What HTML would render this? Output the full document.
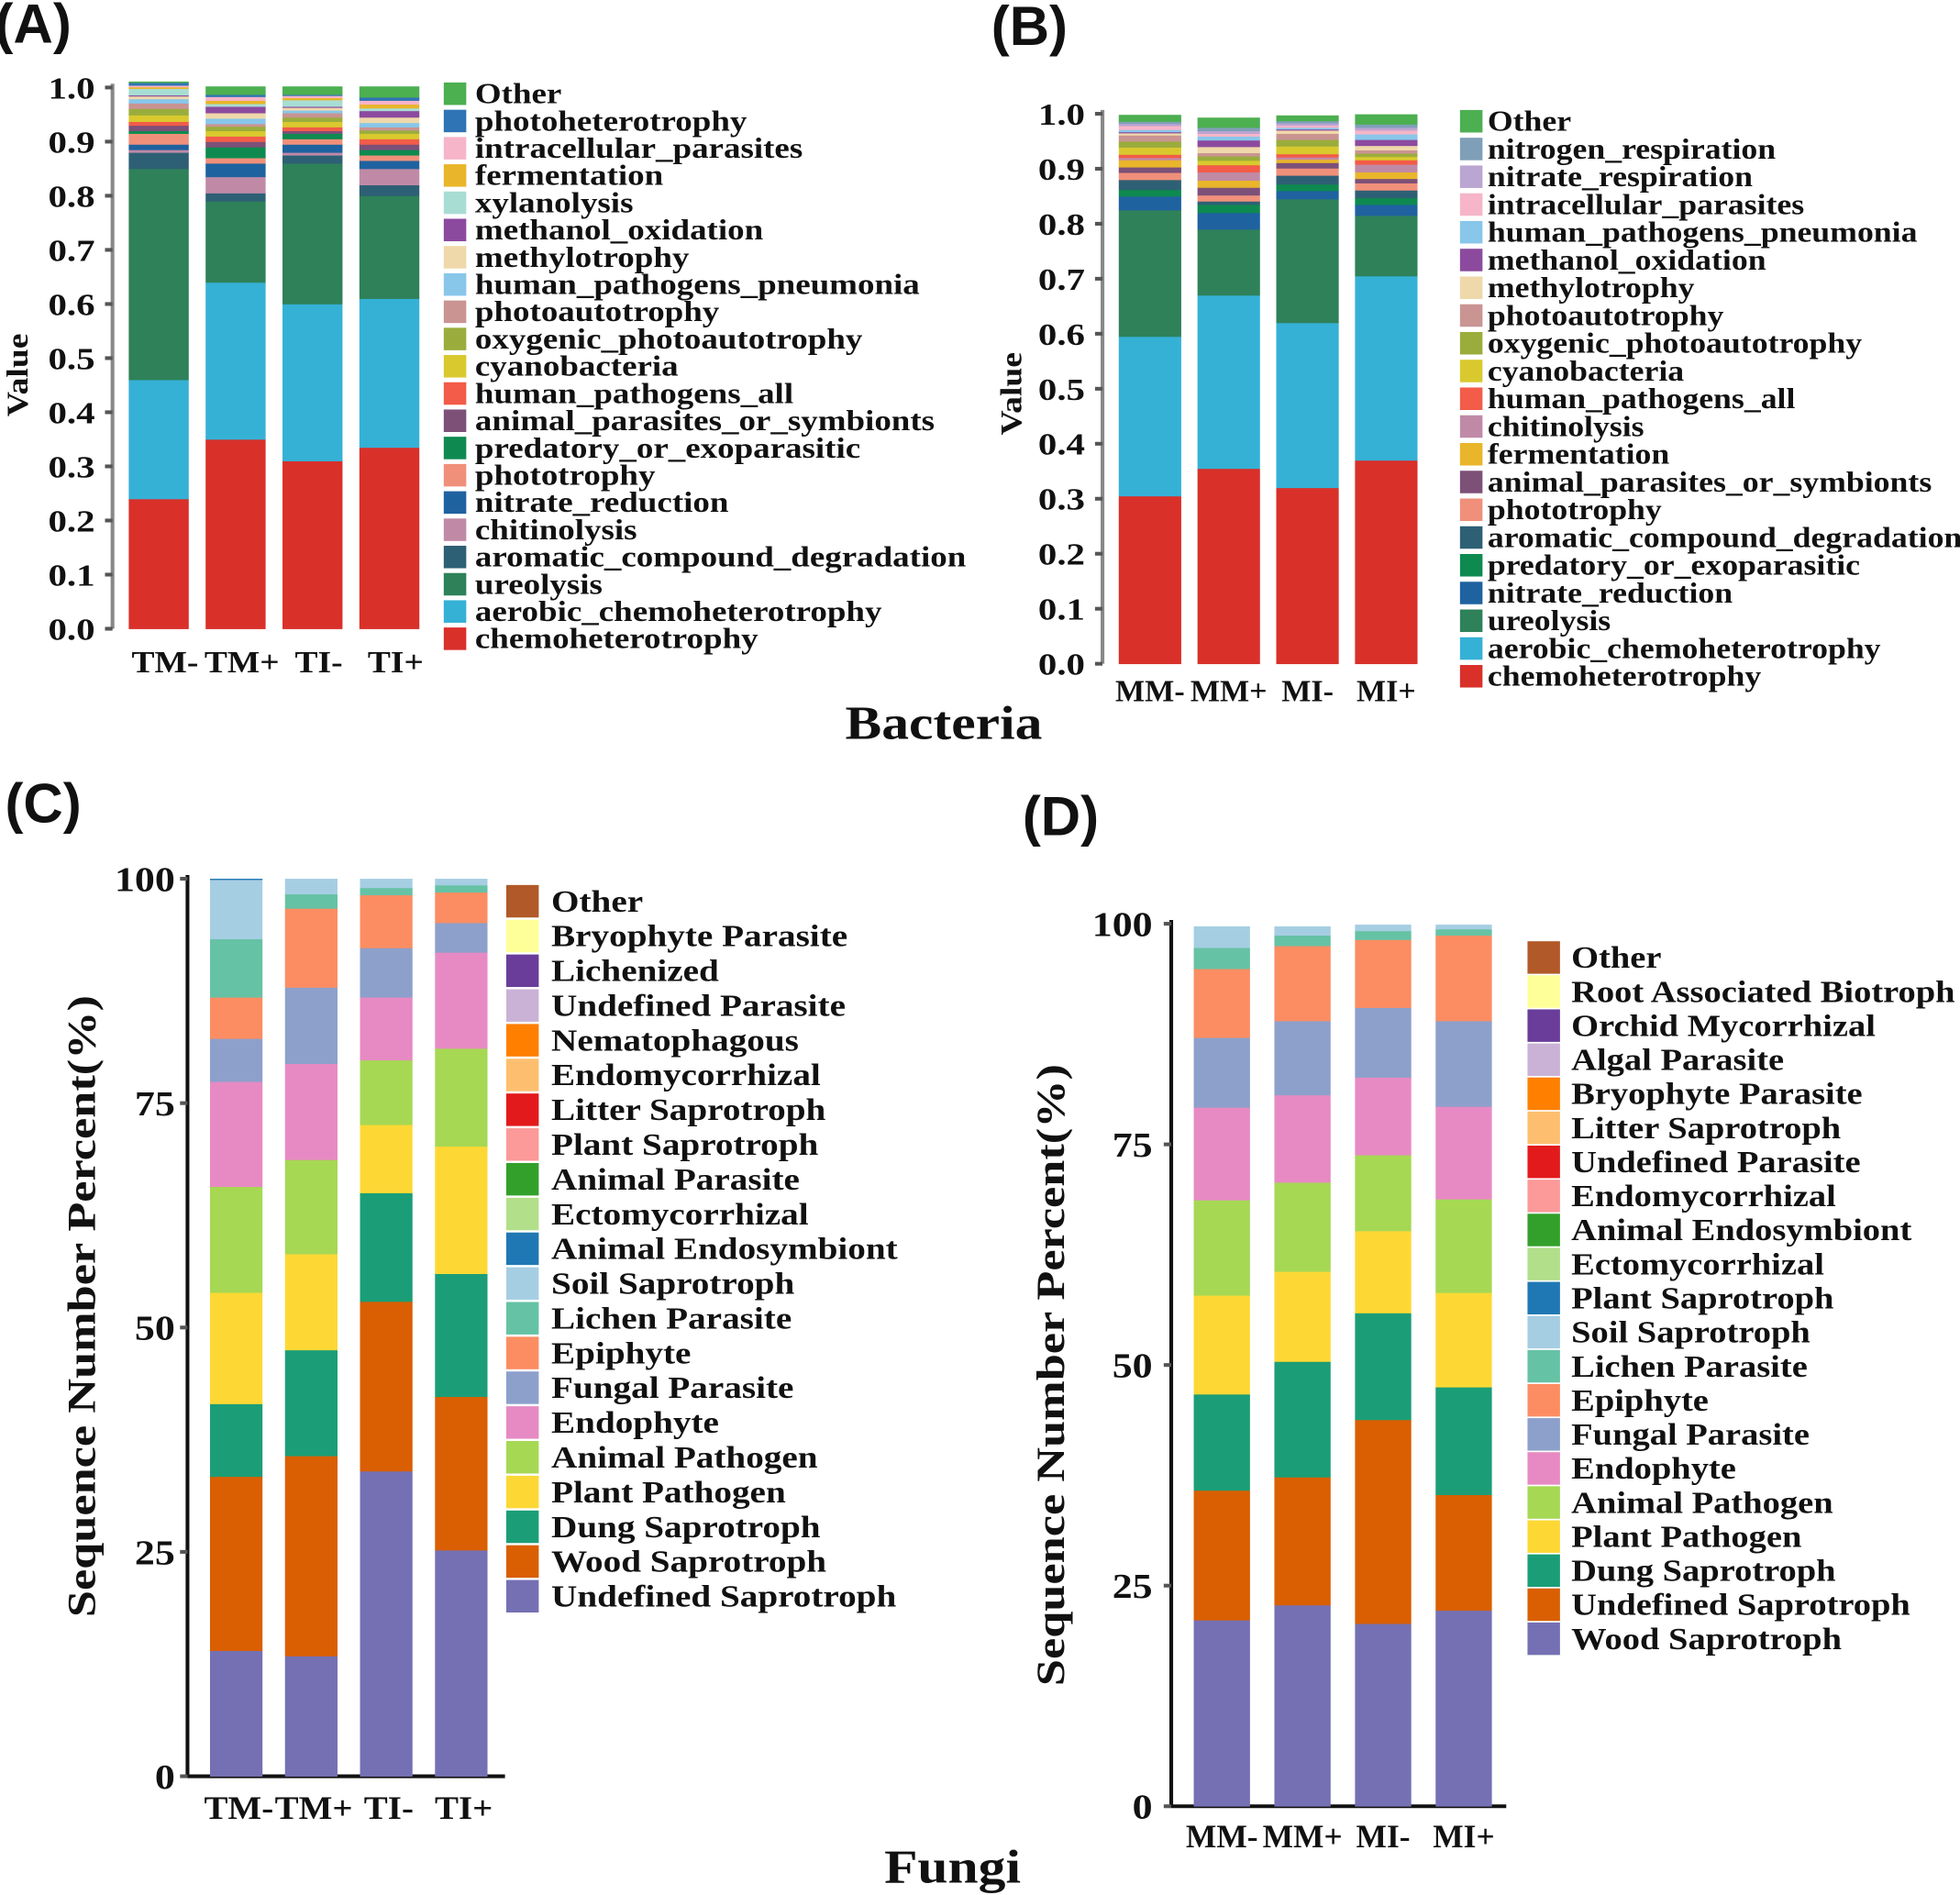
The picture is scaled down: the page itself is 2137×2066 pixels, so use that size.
<!DOCTYPE html>
<html><head><meta charset="utf-8">
<style>
html,body{margin:0;padding:0;background:#fff;}
svg{display:block;}
text{font-family:"Liberation Serif",serif;font-weight:bold;fill:#111;}
.lab{font-family:"Liberation Sans",sans-serif;}
</style></head>
<body>
<svg id="fig" width="2137" height="2066" viewBox="0 0 1568 1516" preserveAspectRatio="none" xmlns="http://www.w3.org/2000/svg">
<text class="lab" x="-4" y="34" font-size="44">(A)</text>
<text class="lab" x="793" y="36" font-size="44">(B)</text>
<text class="lab" x="4" y="658" font-size="44">(C)</text>
<text class="lab" x="818" y="668" font-size="44">(D)</text>
<text transform="translate(755,591) scale(1.15,1)" font-size="38" text-anchor="middle">Bacteria</text>
<text transform="translate(762,1506) scale(1.15,1)" font-size="38" text-anchor="middle">Fungi</text>
</svg>
<script>
// ---------- Panel A data (bottom-up series) ----------
const catsA = ["TM-","TM+","TI-","TI+"];
const namesA = ["chemoheterotrophy","aerobic_chemoheterotrophy","ureolysis","aromatic_compound_degradation","chitinolysis","nitrate_reduction","phototrophy","predatory_or_exoparasitic","animal_parasites_or_symbionts","human_pathogens_all","cyanobacteria","oxygenic_photoautotrophy","photoautotrophy","human_pathogens_pneumonia","methylotrophy","methanol_oxidation","xylanolysis","fermentation","intracellular_parasites","photoheterotrophy","Other"];
const colorsA = ["#d9302a","#35b1d6","#2e8159","#2e6075","#c08aa6","#1f62a0","#f0907a","#0e8a50","#7d5078","#f25c48","#d9c92e","#9aad3c","#c99491","#88c6ea","#efd8aa","#8c4a9e","#a8ddd4","#e9b52a","#f6b5c9","#2f74b4","#4caf50"];
const valsA = [
 [0.24,0.35,0.31,0.335],[0.22,0.29,0.29,0.275],[0.39,0.15,0.26,0.19],[0.03,0.015,0.015,0.02],
 [0.005,0.03,0.005,0.03],[0.01,0.025,0.015,0.015],[0.02,0.01,0.01,0.01],[0.005,0.02,0.01,0.01],
 [0.01,0.01,0.005,0.01],[0.007,0.01,0.007,0.01],[0.012,0.01,0.01,0.01],[0.012,0.008,0.008,0.006],
 [0.01,0.005,0.008,0.006],[0.008,0.01,0.005,0.008],[0.005,0.01,0.005,0.01],[0.002,0.012,0.002,0.012],
 [0.012,0.005,0.012,0.005],[0.003,0.006,0.004,0.007],[0.003,0.007,0.004,0.007],[0.005,0.004,0.002,0.006],[0.002,0.015,0.015,0.02]];
// ---------- Panel B data ----------
const catsB = ["MM-","MM+","MI-","MI+"];
const namesB = ["chemoheterotrophy","aerobic_chemoheterotrophy","ureolysis","nitrate_reduction","predatory_or_exoparasitic","aromatic_compound_degradation","phototrophy","animal_parasites_or_symbionts","fermentation","chitinolysis","human_pathogens_all","cyanobacteria","oxygenic_photoautotrophy","photoautotrophy","methylotrophy","methanol_oxidation","human_pathogens_pneumonia","intracellular_parasites","nitrate_respiration","nitrogen_respiration","Other"];
const colorsB = ["#d9302a","#35b1d6","#2e8159","#1f62a0","#0e8a50","#2e6075","#f0907a","#7d5078","#e9b52a","#c08aa6","#f25c48","#d9c92e","#9aad3c","#c99491","#efd8aa","#8c4a9e","#88c6ea","#f6b5c9","#bba5d2","#7f9fb8","#4caf50"];
const valsB = [
 [0.305,0.355,0.32,0.37],[0.29,0.315,0.30,0.335],[0.23,0.12,0.225,0.11],[0.025,0.03,0.015,0.02],
 [0.012,0.015,0.012,0.012],[0.018,0.006,0.016,0.014],[0.013,0.011,0.013,0.013],[0.01,0.014,0.01,0.008],
 [0.013,0.013,0.006,0.012],[0.004,0.015,0.004,0.014],[0.006,0.013,0.006,0.008],[0.013,0.008,0.014,0.006],
 [0.011,0.008,0.012,0.006],[0.011,0.006,0.011,0.006],[0.004,0.011,0.006,0.008],[0.002,0.012,0.002,0.011],
 [0.004,0.007,0.003,0.01],[0.007,0.005,0.004,0.007],[0.004,0.005,0.004,0.005],[0.004,0.006,0.004,0.006],[0.012,0.018,0.01,0.018]];
// ---------- Panel C data (percent) ----------
const catsC = ["TM-","TM+","TI-","TI+"];
const namesC = ["Undefined Saprotroph","Wood Saprotroph","Dung Saprotroph","Plant Pathogen","Animal Pathogen","Endophyte","Fungal Parasite","Epiphyte","Lichen Parasite","Soil Saprotroph","Animal Endosymbiont","Ectomycorrhizal","Animal Parasite","Plant Saprotroph","Litter Saprotroph","Endomycorrhizal","Nematophagous","Undefined Parasite","Lichenized","Bryophyte Parasite","Other"];
const colorsC = ["#7570b3","#d95f02","#1b9e77","#fdd835","#a6d854","#e78ac3","#8da0cb","#fc8d62","#66c2a5","#a6cee3","#1f78b4","#b2df8a","#33a02c","#fb9a99","#e31a1c","#fdbf6f","#ff7f00","#cab2d6","#6a3d9a","#ffff99","#b15928"];
const valsC = [
 [14,13.4,34,25.2],[19.4,22.3,18.9,17.1],[8.1,11.8,12.1,13.7],[12.4,10.7,7.6,14.2],[11.8,10.5,7.2,10.9],
 [11.7,10.7,7,10.7],[4.8,8.5,5.5,3.3],[4.6,8.8,5.9,3.4],[6.5,1.6,0.8,0.8],[6.6,1.7,1,0.7],
 [0.1,0,0,0],[0,0,0,0],[0,0,0,0],[0,0,0,0],[0,0,0,0],[0,0,0,0],[0,0,0,0],[0,0,0,0],[0,0,0,0],[0,0,0,0],[0,0,0,0]];
// ---------- Panel D data (percent) ----------
const catsD = ["MM-","MM+","MI-","MI+"];
const namesD = ["Wood Saprotroph","Undefined Saprotroph","Dung Saprotroph","Plant Pathogen","Animal Pathogen","Endophyte","Fungal Parasite","Epiphyte","Lichen Parasite","Soil Saprotroph","Plant Saprotroph","Ectomycorrhizal","Animal Endosymbiont","Endomycorrhizal","Undefined Parasite","Litter Saprotroph","Bryophyte Parasite","Algal Parasite","Orchid Mycorrhizal","Root Associated Biotroph","Other"];
const colorsD = ["#7570b3","#d95f02","#1b9e77","#fdd835","#a6d854","#e78ac3","#8da0cb","#fc8d62","#66c2a5","#a6cee3","#1f78b4","#b2df8a","#33a02c","#fb9a99","#e31a1c","#fdbf6f","#ff7f00","#cab2d6","#6a3d9a","#ffff99","#b15928"];
const valsD = [
 [21.1,22.8,20.7,22.2],[14.7,14.5,23.1,13.1],[10.9,13.1,12.1,12.2],[11.2,10.2,9.3,10.7],[10.8,10.1,8.6,10.6],
 [10.5,9.9,8.8,10.5],[7.9,8.4,7.9,9.7],[7.8,8.5,7.7,9.7],[2.4,1.2,1,0.7],[2.4,1,0.7,0.5],
 [0,0,0,0],[0,0,0,0],[0,0,0,0],[0,0,0,0],[0,0,0,0],[0,0,0,0],[0,0,0,0],[0,0,0,0],[0,0,0,0],[0,0,0,0],[0,0,0,0]];
const ticksA = ["0.0","0.1","0.2","0.3","0.4","0.5","0.6","0.7","0.8","0.9","1.0"];
const ticksC = ["0","25","50","75","100"];

const NS = "http://www.w3.org/2000/svg";
const svg = document.getElementById("fig");
function mk(tag, attrs, parent, txt){
  const e = document.createElementNS(NS, tag);
  for (const k in attrs) e.setAttribute(k, attrs[k]);
  if (txt !== undefined) e.textContent = txt;
  (parent||svg).appendChild(e); return e;
}
function stxt(x, y, sx, attrs, parent, txt, rot){
  attrs.transform = "translate(" + x + "," + y + ")" + (rot ? " rotate(-90)" : "") + " scale(" + sx + ",1)";
  return mk("text", attrs, parent, txt);
}
function panel(cfg, id){
  const g = mk("g", {});
  
  
  const y = v => cfg.y0 - (v / cfg.max) * (cfg.y0 - cfg.y1);
  const bx = i => cfg.bx0 + i * cfg.bstep;
  const ax = mk("line", {x1:cfg.ax, x2:cfg.ax, y1:cfg.y1 - 3, y2:cfg.y0, stroke:cfg.axc, "stroke-width":3}, g);
  
  
  if (cfg.xaxis){
    const xa = mk("line", {x1:cfg.ax, x2:cfg.xend, y1:cfg.y0, y2:cfg.y0, stroke:cfg.axc, "stroke-width":3}, g);
    
    
  }
  cfg.ticks.forEach((t, i) => {
    const v = parseFloat(t);
    mk("line", {x1:cfg.ax - 6, x2:cfg.ax, y1:y(v), y2:y(v), stroke:"#555", "stroke-width":3}, g);
    const tl = stxt(cfg.ax - cfg.tgap, y(v) + cfg.tfs * 0.35, cfg.sx, {"font-size":cfg.tfs, "text-anchor":"end"}, g, t);
    
    
  });
  cfg.cats.forEach((c, i) => {
    let acc = 0;
    cfg.vals.forEach((s, k) => {
      const v = s[i]; if (!v) return;
      const r = mk("rect", {x:bx(i), width:cfg.bw, y:y(acc + v), height:y(acc) - y(acc + v) + 0.3, fill:cfg.colors[k]}, g);
      
      
      acc += v;
    });
    const xl = stxt(bx(i) + cfg.bw / 2 + cfg.xoff, cfg.xly, cfg.xsx, {"font-size":cfg.xfs, "text-anchor":"middle"}, g, c);
    
    
  });
  const yt = stxt(cfg.ytx, cfg.yty, cfg.ytsx, {"font-size":cfg.ytfs, "text-anchor":"middle"}, g, cfg.ytitle, true);
  
  
  const n = cfg.names.length;
  for (let j = 0; j < n; j++){
    const k = n - 1 - j;
    const ly = cfg.ly0 + j * cfg.lstep;
    const sw = mk("rect", {x:cfg.lx, y:ly - cfg.lbox / 2, width:cfg.lbox, height:cfg.lbox, fill:cfg.colors[k]}, g);
    
    
    const lt = stxt(cfg.ltx, ly + cfg.lfs * 0.33, cfg.lsx, {"font-size":cfg.lfs}, g, cfg.names[k]);
    
    
  }
}
panel({cats:catsA, names:namesA, colors:colorsA, vals:valsA, max:1, ticks:ticksA, sx:1.2, xsx:1.1, xoff:5,
  y0:503, y1:70, ax:90, axc:"#888", bx0:103, bstep:61.5, bw:48, tgap:14, tfs:25, xly:538, xfs:25,
  ytx:22, yty:300, ytfs:24, ytsx:1.15, ytitle:"Value", lx:355, ltx:380, ly0:75, lstep:21.8, lbox:18, lfs:23, lsx:1.18}, "panel-a");
panel({cats:catsB, names:namesB, colors:colorsB, vals:valsB, max:1, ticks:ticksA, sx:1.2, xsx:1.0, xoff:0,
  y0:531, y1:91, ax:882, axc:"#888", bx0:895, bstep:63, bw:50, tgap:14, tfs:25, xly:561, xfs:25,
  ytx:817, yty:315, ytfs:24, ytsx:1.15, ytitle:"Value", lx:1168, ltx:1190, ly0:97, lstep:22.2, lbox:18, lfs:23, lsx:1.14}, "panel-b");
panel({cats:catsC, names:namesC, colors:colorsC, vals:valsC, max:100, ticks:ticksC, xaxis:true, xend:404, sx:1.15, xsx:1.1, xoff:2,
  y0:1421, y1:703, ax:150, axc:"#111", bx0:168, bstep:60, bw:42, tgap:10, tfs:28, xly:1455, xfs:26,
  ytx:76, yty:1045, ytfs:32, ytsx:1.2, ytitle:"Sequence Number Percent(%)", lx:405, ltx:441, ly0:721, lstep:27.8, lbox:26, lfs:25, lsx:1.15}, "panel-c");
panel({cats:catsD, names:namesD, colors:colorsD, vals:valsD, max:100, ticks:ticksC, xaxis:true, xend:1205, sx:1.15, xsx:1.0, xoff:0,
  y0:1445, y1:739, ax:937, axc:"#111", bx0:955, bstep:64.5, bw:45, tgap:15, tfs:28, xly:1478, xfs:26,
  ytx:851, yty:1100, ytfs:32, ytsx:1.2, ytitle:"Sequence Number Percent(%)", lx:1222, ltx:1257, ly0:766, lstep:27.25, lbox:26, lfs:25, lsx:1.13}, "panel-d");
</script>
</body></html>
